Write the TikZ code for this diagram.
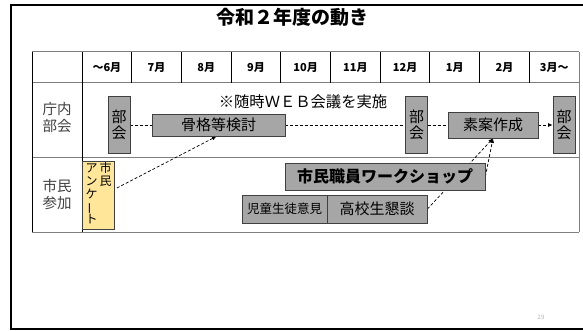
\documentclass[tikz,border=0pt]{standalone}
\usepackage{fontspec}
\setmainfont{Noto Sans CJK JP}
\usepackage{graphicx}
\usetikzlibrary{arrows.meta}
\pgfdeclarelayer{bgfill}
\pgfdeclarelayer{grid}
\pgfdeclarelayer{conn}
\pgfsetlayers{bgfill,grid,conn,main}
\definecolor{boxgray}{HTML}{A6A6A6}
\definecolor{boxline}{HTML}{404040}
\definecolor{anketo}{HTML}{FFE699}
\definecolor{gridgray}{HTML}{7F7F7F}
\definecolor{labelgray}{HTML}{404040}
\begin{document}
\begin{tikzpicture}[x=1pt,y=-1pt,
  gbox/.style={draw=boxline, fill=boxgray, line width=0.8pt, inner sep=0pt, text=black},
  vbox/.style={gbox, minimum width=22pt, minimum height=57pt, align=center, font=\fontsize{15}{16}\selectfont},
  hbox/.style={gbox, font=\fontsize{15}{16}\selectfont},
  conn/.style={dash pattern=on 3pt off 2pt, line width=0.7pt, black},
  arr/.style={conn, -{Latex[length=4.5pt,width=4pt]}},
  hline/.style={gridgray, line width=1pt},
  vline/.style={black, line width=0.9pt},
  month/.style={font=\bfseries\fontsize{11}{12}\selectfont},
  rowlabel/.style={align=center, text=labelgray, font=\fontsize{14.5}{17}\selectfont}
]
\useasboundingbox (0,0) rectangle (583,331);
\begin{pgfonlayer}{bgfill}
\fill[white] (0,0) rectangle (583,331);
\end{pgfonlayer}
% outer frame
\draw[black, line width=2pt] (583,5) -- (11,5) -- (11,329) -- (583,329);
% title
\node (title) at (292,17) {\bfseries\fontsize{19}{21}\selectfont 令和２年度の動き};
% table grid
\begin{pgfonlayer}{grid}
\foreach \yy in {52,83,158,232} \draw[hline] (32,\yy) -- (579,\yy);
\draw[vline] (32,52) -- (32,232);
\draw[vline] (82,52) -- (82,232);
\draw[hline] (579,52) -- (579,232);
\foreach \i in {1,...,9} \draw[vline] ({82+49.7*\i},52) -- ({82+49.7*\i},83);
\end{pgfonlayer}
% header
\foreach \lbl [count=\i] in {～6月,7月,8月,9月,10月,11月,12月,1月,2月,3月～}
  \node[month] (m\i) at ({82+49.7*(\i-0.5)},67.5) {\lbl};
% row labels
\node[rowlabel] (r1) at (57,118) {庁内\\部会};
\node[rowlabel] (r2) at (57,194) {市民\\参加};
% note
\node[font=\fontsize{15.3}{16}\selectfont] (note) at (303,102) {※随時ＷＥＢ会議を実施};
% row 1 boxes
\node[vbox] (bk1) at (119,125) {部\\会};
\node[hbox, minimum width=133pt, minimum height=22pt] (kokkaku) at (218.5,125) {骨格等検討};
\node[vbox] (bk2) at (416.5,125) {部\\会};
\node[hbox, minimum width=90pt, minimum height=26pt] (soan) at (493,125) {素案作成};
\node[vbox] (bk3) at (564,125) {部\\会};
% row 2 boxes
\node[draw=boxline, fill=anketo, line width=0.8pt, inner sep=0pt, minimum width=32pt, minimum height=68pt,
      font=\fontsize{12}{12.4}\selectfont] (anketo) at (98.5,195)
  {\begin{tabular}[t]{@{}c@{}}ア\\ン\\ケ\\\rotatebox[origin=c]{90}{ー}\\ト\end{tabular}\hspace{2pt}%
   \begin{tabular}[t]{@{}c@{}}市\\民\end{tabular}};
\node[gbox, minimum width=200pt, minimum height=27pt, font=\bfseries\fontsize{16}{17}\selectfont] (ws) at (385,176.5) {市民職員ワークショップ};
\node[gbox, minimum width=85pt, minimum height=28pt, font=\fontsize{12.5}{14}\selectfont] (jido) at (284.5,209) {児童生徒意見};
\node[hbox, minimum width=100pt, minimum height=28pt] (koukou) at (377,209) {高校生懇談};
% page number
\node[text=gray!60, font=\fontsize{6}{7}\selectfont] (pg) at (541,317) {29};
% connectors
\begin{pgfonlayer}{conn}
\draw[conn] (bk1.east) -- (kokkaku.west);
\draw[conn] (kokkaku.east) -- (bk2.west);
\draw[conn] (bk2.east) -- (soan.west);
\draw[arr] (soan.east) -- (bk3.west);
\draw[arr] ([shift={(2,-7)}]anketo.east) -- ([xshift=-2pt]kokkaku.south);
\draw[arr] (koukou.east) -- (soan.south);
\draw[arr] (ws.east) -- (soan.south);
\end{pgfonlayer}
\end{tikzpicture}
\end{document}
